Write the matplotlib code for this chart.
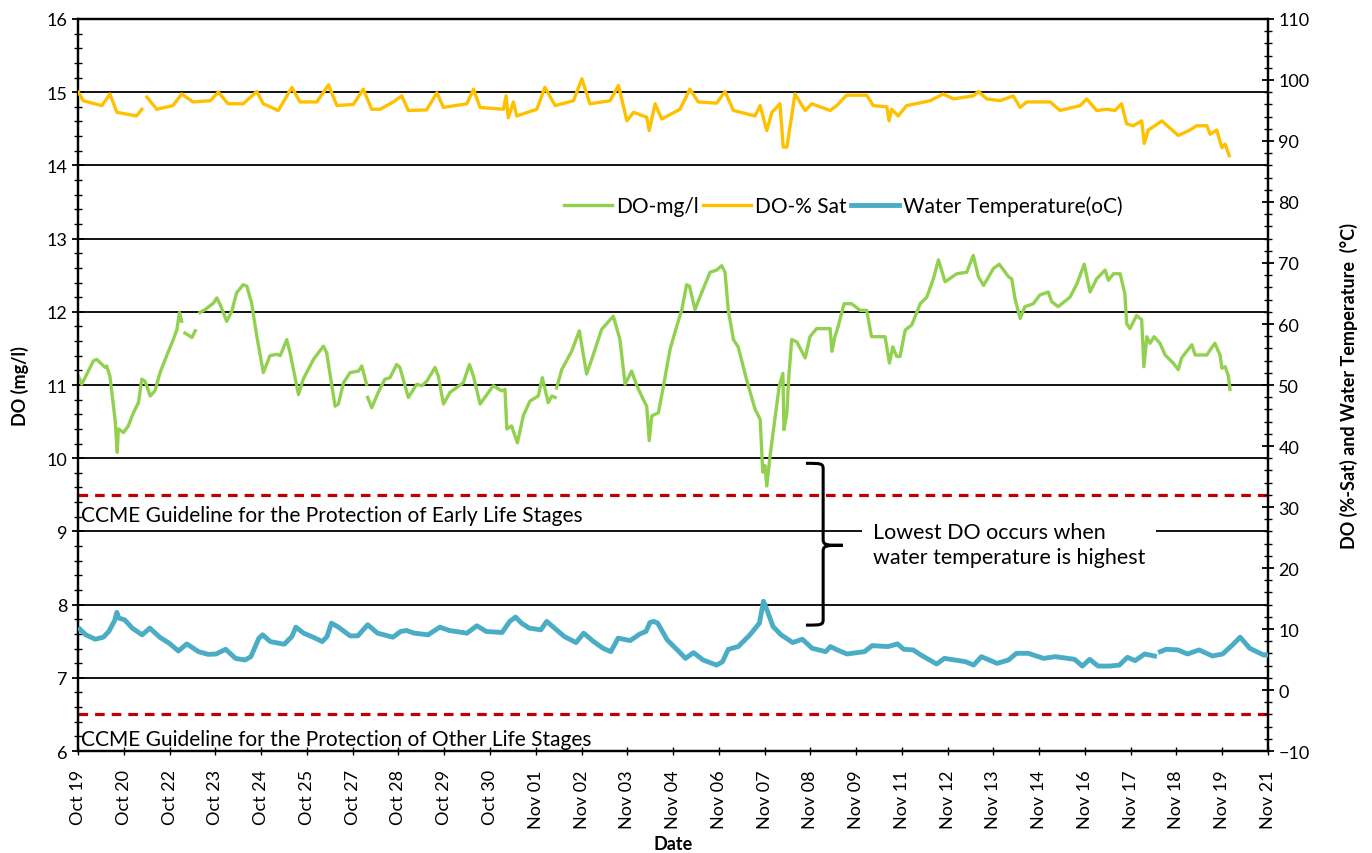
import numpy as np
import matplotlib
matplotlib.use("Agg")
import matplotlib.pyplot as plt
from matplotlib.path import Path
from matplotlib.patches import PathPatch
from matplotlib.ticker import MultipleLocator, FixedLocator

plt.rcParams['font.family'] = ['Lato', 'DejaVu Sans']

# ---- data (time in days since chart start, Oct 19 ~noon) ----
tick_labels = ["Oct 19", "Oct 20", "Oct 22", "Oct 23", "Oct 24", "Oct 25", "Oct 27",
               "Oct 28", "Oct 29", "Oct 30", "Nov 01", "Nov 02", "Nov 03", "Nov 04",
               "Nov 06", "Nov 07", "Nov 08", "Nov 09", "Nov 11", "Nov 12", "Nov 13",
               "Nov 14", "Nov 16", "Nov 17", "Nov 18", "Nov 19", "Nov 21"]
tick_step_days = 1.25

sat_t = [0.01, 0.14, 0.65, 0.87, 1.06, 1.60, 1.74, np.nan, 1.88, 2.15, 2.59, 2.83, 3.14, 3.61, 3.83,
         4.10, 4.51, 4.88, 5.06, 5.47, 5.84, 6.06, 6.52, 6.84, 7.07, 7.52, 7.79, 8.02, 8.25,
         8.61, 8.84, 9.02, 9.52, 9.80, 9.98, 10.62, 10.80, 10.98, 11.62, 11.69, 11.75, 11.89,
         11.98, 12.53, 12.75, 13.03, 13.53, 13.76, 13.98, 14.53, 14.76, 14.99, 15.17, 15.53,
         15.60, 15.76, 15.94, 16.44, 16.71, 16.94, 17.44, 17.67, 17.90, 18.49, 18.63, 18.81,
         18.95, 19.17, 19.26, 19.36, 19.58, 19.86, 20.04, 20.54, 20.72, 20.99, 21.54, 21.72,
         22.09, 22.15, 22.22, 22.40, 22.63, 23.27, 23.63, 23.91, 24.45, 24.59, 24.82, 25.18,
         25.54, 25.73, 25.91, 26.55, 26.82, 27.37, 27.55, 27.82, 28.10, 28.32, 28.50, 28.64,
         28.82, 29.05, 29.12, 29.23, 29.41, 29.60, 30.05, 30.37, 30.55, 30.83, 30.92, 31.10,
         31.24, 31.33, 31.44]
sat_v = [98.0, 96.6, 95.8, 97.7, 94.7, 94.1, 95.2, np.nan, 97.2, 95.2, 95.8, 97.7, 96.4, 96.6, 98.0,
         96.1, 96.1, 98.1, 96.1, 95.0, 98.8, 96.4, 96.4, 99.2, 95.8, 96.0, 98.5, 95.2, 95.2,
         96.4, 97.4, 95.0, 95.1, 97.9, 95.5, 96.1, 98.5, 95.5, 95.2, 97.4, 93.8, 96.4,
         94.1, 95.2, 98.8, 95.8, 96.6, 100.2, 96.1, 96.6, 99.1, 93.3, 94.7, 93.9,
         91.7, 96.1, 93.6, 95.2, 98.5, 96.4, 96.2, 98.1, 95.0, 94.1, 95.8, 91.7,
         94.7, 96.1, 89.0, 89.0, 97.7, 95.0, 96.1, 95.0, 95.8, 97.5, 97.5, 95.8,
         95.6, 93.3, 95.2, 94.1, 95.8, 96.6, 97.7, 96.9, 97.4, 98.1, 96.9, 96.6,
         97.4, 95.5, 96.4, 96.4, 95.0, 95.8, 96.9, 95.0, 95.2, 95.0, 96.1, 92.8,
         92.5, 93.3, 89.6, 91.8, 92.5, 93.3, 90.9, 91.8, 92.5, 92.5, 91.1, 91.8,
         88.9, 89.5, 87.6]

do_t = [0.01, 0.10, 0.42, 0.51, 0.74, 0.78, 0.87, 1.01, 1.07, 1.10, 1.24, 1.37, 1.51, 1.65, 1.74,
        1.83, 1.97, 2.10, 2.24, 2.42, 2.60, 2.70, 2.77, 2.83, np.nan, 2.92, 3.11, 3.20, np.nan,
        3.33, 3.47, 3.70, 3.79, 3.88, 4.06, 4.20, 4.33, 4.51, 4.61, 4.74, 4.88, 5.06, 5.24,
        5.43, 5.52, 5.70, 5.79, 6.02, 6.15, 6.43, 6.70, 6.79, 7.02, 7.11, 7.25, 7.43, 7.66,
        7.75, 7.88, np.nan, 7.91, 8.02, 8.20, 8.38, 8.52, 8.70, 8.79, 9.02, 9.25, 9.39, 9.52,
        9.75, 9.84, 9.98, 10.16, 10.52, 10.69, 10.80, 10.98, 11.34, 11.57, 11.66, 11.71,
        11.84, 12.00, 12.16, 12.34, 12.57, 12.68, 12.84, 12.94, 13.03, np.nan, 13.07, 13.21,
        13.48, 13.69, 13.89, 14.03, 14.30, 14.62, 14.80, 14.94, 15.12, 15.26, 15.44, 15.53,
        15.60, 15.67, 15.85, 15.99, 16.17, 16.35, 16.49, 16.62, 16.70, 16.85, 16.99, 17.13,
        17.26, 17.44, 17.58, 17.67, 17.76, 17.90, 18.03, 18.26, 18.49, 18.63, 18.70, 18.76,
        18.81, 18.90, 19.04, 19.15, 19.25, 19.28, 19.36, 19.40, 19.49, 19.63, 19.86, 19.99,
        20.17, 20.54, 20.59, 20.67, 20.76, 20.92, 21.13, 21.36, 21.54, 21.67, 22.04, 22.16,
        22.25, 22.36, 22.45, 22.59, 22.77, 23.00, 23.18, 23.36, 23.50, 23.68, 24.00, 24.27,
        24.45, 24.59, 24.73, 25.00, 25.16, 25.41, 25.50, 25.59, 25.73, 25.86, 26.09, 26.27,
        26.50, 26.59, 26.77, 27.09, 27.28, 27.48, 27.64, 27.82, 28.05, 28.14, 28.28, 28.46,
        28.59, 28.64, 28.73, 28.91, 29.05, 29.11, 29.19, 29.28, 29.39, 29.55, 29.69, 29.91,
        30.05, 30.14, 30.42, 30.51, 30.83, 30.92, 31.05, 31.19, 31.24, 31.33, 31.42, 31.46]
do_v = [11.12, 11.01, 11.33, 11.35, 11.24, 11.26, 11.12, 10.53, 10.08, 10.40, 10.35, 10.44, 10.62,
        10.76, 11.08, 11.05, 10.85, 10.92, 11.17, 11.40, 11.62, 11.76, 11.99, 11.87, np.nan, 11.71,
        11.65, 11.74, np.nan, 11.99, 12.03, 12.12, 12.19, 12.10, 11.87, 12.01, 12.26, 12.37, 12.35,
        12.12, 11.67, 11.17, 11.40, 11.42, 11.40, 11.62, 11.44, 10.87, 11.08, 11.35, 11.53, 11.44,
        10.71, 10.74, 11.03, 11.17, 11.19, 11.26, 11.01, np.nan, 10.83, 10.69, 10.90, 11.08, 11.10,
        11.28, 11.24, 10.83, 11.01, 10.99, 11.05, 11.24, 11.12, 10.74, 10.90, 11.03, 11.28, 11.12,
        10.74, 10.99, 10.92, 10.94, 10.40, 10.44, 10.21, 10.58, 10.78, 10.85, 11.10, 10.76, 10.85,
        10.83, np.nan, 10.96, 11.21, 11.46, 11.74, 11.15, 11.35, 11.76, 11.94, 11.62, 11.01, 11.19,
        10.99, 10.80, 10.71, 10.24, 10.58, 10.62, 10.99, 11.49, 11.80, 12.03, 12.37, 12.35, 12.03,
        12.21, 12.38, 12.54, 12.57, 12.63, 12.54, 12.02, 11.62, 11.52, 11.07, 10.67, 10.53, 9.81,
        9.90, 9.62, 10.03, 10.57, 10.98, 11.16, 10.39, 10.62, 11.03, 11.62, 11.59, 11.37, 11.66,
        11.77, 11.77, 11.46, 11.66, 11.80, 12.11, 12.11, 12.02, 12.02, 11.66, 11.66, 11.30, 11.52,
        11.39, 11.39, 11.75, 11.82, 12.11, 12.20, 12.45, 12.71, 12.41, 12.52, 12.54, 12.77, 12.48,
        12.36, 12.59, 12.65, 12.48, 12.45, 12.18, 11.91, 12.07, 12.11, 12.23, 12.27, 12.14, 12.07,
        12.20, 12.38, 12.65, 12.27, 12.45, 12.57, 12.43, 12.52, 12.52, 12.25, 11.84, 11.77, 11.95,
        11.89, 11.25, 11.66, 11.57, 11.66, 11.57, 11.41, 11.30, 11.21, 11.37, 11.55, 11.41, 11.41,
        11.48, 11.57, 11.41, 11.23, 11.25, 11.12, 10.94]

temp_t = [0.05, 0.21, 0.47, 0.69, 0.84, 1.00, 1.06, 1.11, 1.27, 1.48, 1.75, 1.96, 2.23, 2.49, 2.74,
          2.97, 3.29, 3.55, 3.77, 4.03, 4.30, 4.56, 4.72, 4.94, 5.04, 5.25, 5.63, 5.84, 5.95, 6.16,
          6.42, 6.67, 6.80, 6.92, 7.11, 7.43, 7.64, 7.91, 8.18, 8.60, 8.81, 8.97, 9.18, 9.56, 9.88,
          10.14, 10.62, 10.89, 11.15, 11.58, 11.79, 11.95, 12.11, 12.32, 12.64, 12.80, 12.96,
          13.28, 13.60, 13.81, 14.08, 14.34, 14.55, 14.75, 15.08, 15.35, 15.51, 15.62, 15.72,
          15.83, 16.09, 16.44, 16.59, 16.81, 17.07, 17.44, 17.60, 17.76, 18.03, 18.35, 18.61,
          18.72, 18.83, 18.98, 19.20, 19.52, 19.78, 20.05, 20.42, 20.55, 20.74, 21.00, 21.48,
          21.69, 22.12, 22.38, 22.55, 22.81, 23.02, 23.45, 23.66, 24.24, 24.46, 24.67, 25.10,
          25.41, 25.63, 25.95, 26.37, 26.69, 27.22, 27.43, 27.63, 27.86, 28.18, 28.44, 28.66,
          28.87, 29.13, 29.40, np.nan, 29.56, 29.72, 30.04, 30.30, 30.62, 30.98, 31.26, 31.53,
          31.74, 32.00, 32.38, 32.50]
temp_v = [9.98, 9.05, 8.33, 8.66, 9.60, 11.41, 12.73, 11.80, 11.52, 10.15, 9.05, 10.15, 8.66, 7.67,
          6.40, 7.56, 6.29, 5.85, 5.91, 6.68, 5.19, 4.92, 5.47, 8.50, 9.05, 7.94, 7.50, 8.77, 10.31,
          9.32, 8.66, 7.94, 8.77, 10.97, 10.31, 8.88, 8.88, 10.70, 9.32, 8.66, 9.60, 9.76, 9.32,
          9.05, 10.31, 9.76, 9.32, 10.53, 9.60, 9.43, 11.25, 11.96, 10.97, 10.15, 9.87, 11.25,
          10.42, 8.77, 7.78, 9.32, 7.94, 6.84, 6.29, 8.50, 8.11, 9.21, 9.60, 11.08, 11.25, 10.97,
          8.22, 6.13, 5.19, 6.13, 4.92, 4.09, 4.64, 6.68, 7.12, 9.05, 10.97, 14.55, 12.90, 10.42,
          9.05, 7.78, 8.33, 6.84, 6.29, 7.12, 6.57, 5.91, 6.29, 7.28, 7.12, 7.56, 6.68, 6.57, 5.74,
          4.26, 5.19, 4.64, 4.09, 5.47, 4.37, 4.92, 6.02, 6.02, 5.19, 5.47, 5.03, 3.93, 5.03, 3.93,
          3.93, 4.09, 5.36, 4.81, 5.91, 5.58, np.nan, 6.29, 6.68, 6.57, 5.91, 6.57, 5.58, 5.91,
          7.39, 8.66, 6.84, 5.74, 5.74]

early_guideline = 9.5
other_guideline = 6.5

# ---- figure ----
fig = plt.figure(figsize=(13.72, 8.54), dpi=100)
ax = fig.add_axes([0.0569, 0.1194, 0.9242 - 0.0569, 0.9766 - 0.1194])
ax2 = ax.twinx()

ax.set_xlim(0, 32.5)
ax.set_ylim(6, 16)
ax2.set_ylim(-10, 110)

ax.yaxis.set_major_locator(MultipleLocator(1))
ax.yaxis.set_minor_locator(MultipleLocator(0.2))
ax2.yaxis.set_major_locator(MultipleLocator(10))
ax2.yaxis.set_minor_locator(MultipleLocator(2))
ax.grid(axis='y', which='major', color='black', linewidth=1.3)
ax.set_axisbelow(True)

ticks = [i * tick_step_days for i in range(len(tick_labels))]
ax.xaxis.set_major_locator(FixedLocator(ticks))
ax.set_xticklabels(tick_labels, rotation=90, fontsize=13)

ax.tick_params(axis='y', which='major', direction='inout', length=8, width=1.3, labelsize=13)
ax.tick_params(axis='y', which='minor', direction='inout', length=6, width=1.0)
ax2.tick_params(axis='y', which='major', direction='inout', length=8, width=1.3, labelsize=13)
ax2.tick_params(axis='y', which='minor', direction='inout', length=6, width=1.0)
ax.tick_params(axis='x', which='major', direction='inout', length=6, width=1.0, pad=10)

for a in (ax, ax2):
    for s in a.spines.values():
        s.set_linewidth(1.6)

# guidelines
ax.axhline(early_guideline, color='#C00000', linestyle=(0, (3, 2.2)), linewidth=2.3, zorder=3)
ax.axhline(other_guideline, color='#C00000', linestyle=(0, (3, 2.2)), linewidth=2.3, zorder=3)
ax.text(0.08, 9.22, "CCME Guideline for the Protection of Early Life Stages", fontsize=15,
        va='center', ha='left')
ax.text(0.08, 6.16, "CCME Guideline for the Protection of Other Life Stages", fontsize=15,
        va='center', ha='left')

# series
l_do, = ax.plot(do_t, do_v, color='#92D050', linewidth=2.4, zorder=4, label='DO-mg/l')
l_sat, = ax2.plot(sat_t, sat_v, color='#FFC000', linewidth=2.4, zorder=4, label='DO-% Sat')
l_tmp, = ax2.plot(temp_t, temp_v, color='#4BACC6', linewidth=3.5, zorder=4,
                  label='Water Temperature(oC)')

# brace annotation (data coords: days, DO mg/l)
bx0, bx1, bx2 = 19.88, 20.35, 20.89
by_top, by_mid, by_bot = 9.93, 8.81, 7.72
verts = [(bx0, by_top), (bx1 - 0.05, by_top), (bx1, by_top), (bx1, by_top - 0.08),
         (bx1, by_mid + 0.08),
         (bx1, by_mid), (bx1 + 0.1, by_mid), (bx2, by_mid),
         (bx1 + 0.1, by_mid), (bx1, by_mid), (bx1, by_mid - 0.08),
         (bx1, by_bot + 0.08),
         (bx1, by_bot), (bx1 - 0.05, by_bot), (bx0, by_bot)]
codes = [Path.MOVETO, Path.CURVE4, Path.CURVE4, Path.CURVE4,
         Path.LINETO,
         Path.CURVE4, Path.CURVE4, Path.CURVE4,
         Path.CURVE4, Path.CURVE4, Path.CURVE4,
         Path.LINETO,
         Path.CURVE4, Path.CURVE4, Path.CURVE4]
ax.add_patch(PathPatch(Path(verts, codes), facecolor='none', edgecolor='black',
                       linewidth=2.2, zorder=5))

ax.text(21.7, 8.82, "Lowest DO occurs when\nwater temperature is highest", fontsize=15.5,
        va='center', ha='left', linespacing=1.35, zorder=5,
        bbox=dict(boxstyle='square,pad=0.5', facecolor='white', edgecolor='none'))

# labels
ax.set_ylabel("DO (mg/l)", fontsize=13, fontweight='bold', labelpad=13)
ax2.set_ylabel("DO (%-Sat) and Water Temperature  (\u00b0C)", fontsize=13, fontweight='bold',
               labelpad=22)
ax.set_xlabel("Date", fontsize=13, fontweight='bold', labelpad=5)

leg = ax2.legend(handles=[l_do, l_sat, l_tmp], loc='center', bbox_to_anchor=(0.643, 0.745),
                 ncol=3, frameon=False, fontsize=15, handlelength=2.3, handletextpad=0.2,
                 columnspacing=0.2)

fig.savefig("out.png", dpi=100)
